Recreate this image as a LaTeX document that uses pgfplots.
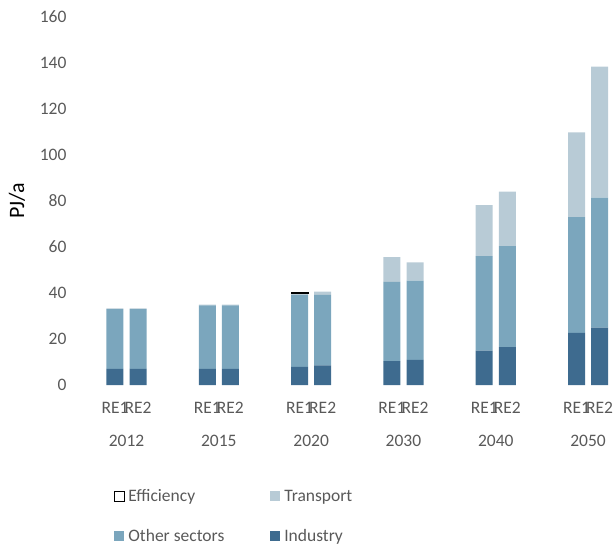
\documentclass[border=0pt]{standalone}
\usepackage{pgfplots}
\usepackage{pgfplotstable}
\pgfplotsset{compat=1.18}
\usepackage{fontspec}
\setmainfont{Carlito}
\definecolor{ind}{HTML}{3E6B8F}
\definecolor{oth}{HTML}{7BA6BD}
\definecolor{tra}{HTML}{B8CBD6}
\definecolor{lab}{HTML}{595959}
\pgfplotstableread{
x ind oth tra
0 7.0 26.0 0.3
1 7.0 26.0 0.3
4 7.0 27.6 0.3
5 7.0 27.6 0.3
8 7.9 31.1 0.8
9 8.5 30.7 1.4
12 10.4 34.4 10.8
13 10.9 34.4 8.0
16 14.9 41.1 22.1
17 16.5 43.8 23.7
20 22.6 50.3 36.9
21 24.9 56.5 56.9
}\datatable
\begin{document}
\begin{tikzpicture}
\useasboundingbox (0,0) rectangle (614pt,547pt);
\begin{axis}[
  at={(70pt,162pt)}, anchor=south west,
  scale only axis, width=540pt, height=368.3pt,
  xmin=-1.95, xmax=21.45, ymin=0, ymax=160,
  ybar stacked, bar width=17pt,
  axis line style={draw=none}, major tick length=0pt,
  ytick={0,20,...,160},
  xtick={0,1,4,5,8,9,12,13,16,17,20,21},
  xticklabels={RE1,RE2,RE1,RE2,RE1,RE2,RE1,RE2,RE1,RE2,RE1,RE2},
  xticklabel style={yshift=-14pt},
  tick label style={font=\fontsize{17.5}{21}\selectfont, text=lab},
  /pgf/number format/assume math mode=true,
  ylabel={PJ/a},
  ylabel style={at={(axis description cs:-0.098,0.5)}, anchor=center,
    font=\fontsize{22}{26}\selectfont, text=black},
  legend columns=2, reverse legend,
  legend style={at={(0.075,-0.272)}, anchor=north west, draw=none, fill=none,
    font=\fontsize{17.5}{21}\selectfont, text=lab, row sep=22pt,
    /tikz/every even column/.append style={column sep=44pt},
    /tikz/every odd column/.append style={column sep=2pt}},
  legend cell align=left,
  legend image code/.code={\path[#1] (0pt,-5pt) rectangle (10pt,5pt);},
]
\addplot[fill=ind, draw=none] table[x=x, y=ind] {\datatable};
\addlegendentry{Industry}
\addplot[fill=oth, draw=none] table[x=x, y=oth] {\datatable};
\addlegendentry{Other sectors}
\addplot[fill=tra, draw=none] table[x=x, y=tra] {\datatable};
\addlegendentry{Transport}
\addlegendimage{draw=black, fill=none, line width=0.7pt}
\addlegendentry{Efficiency}
\end{axis}
\begin{axis}[
  at={(70pt,162pt)}, anchor=south west,
  scale only axis, width=540pt, height=368.3pt,
  xmin=-1.95, xmax=21.45, ymin=0, ymax=160,
  ybar stacked, bar width=17pt,
  axis line style={draw=none}, major tick length=0pt,
  ytick=\empty,
  xtick={0.5,4.5,8.5,12.5,16.5,20.5},
  xticklabels={2012,2015,2020,2030,2040,2050},
  xticklabel style={yshift=-47pt},
  tick label style={font=\fontsize{17.5}{21}\selectfont, text=lab},
]
\addplot[draw=none, fill=none] coordinates {(8,39.8)};
\addplot[draw=black, fill=none, line width=0.8pt] coordinates {(8,0.5)};
\end{axis}
\end{tikzpicture}
\end{document}
